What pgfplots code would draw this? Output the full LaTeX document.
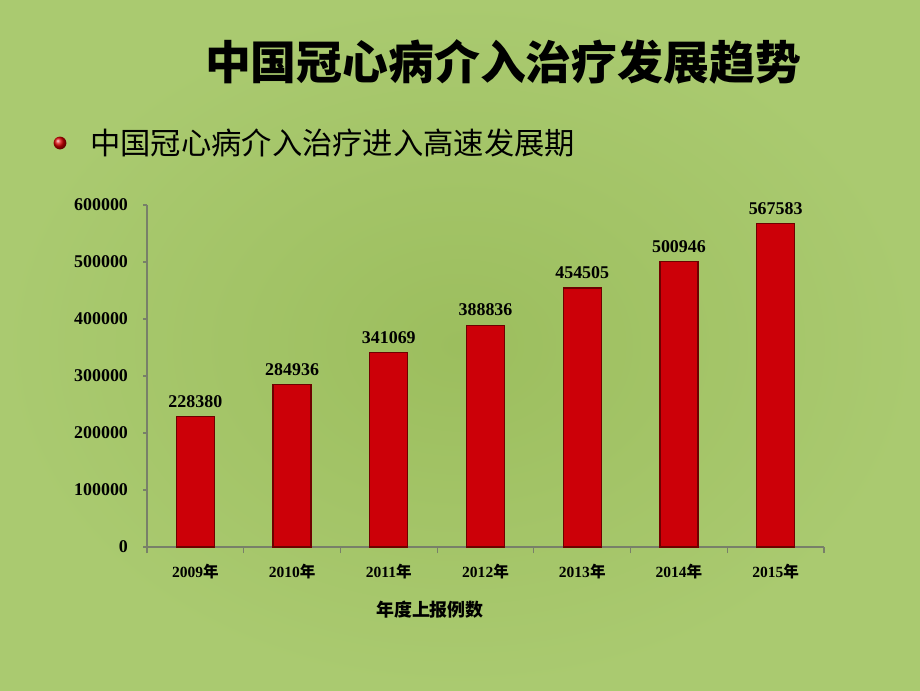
\documentclass[border=0pt]{standalone}
\usepackage{fontspec}
\setmainfont{Liberation Serif}
\newfontfamily\cjk{Noto Sans CJK SC}
\usepackage{pgfplots}
\pgfplotsset{compat=1.18}
\definecolor{bgin}{RGB}{156,190,94}
\definecolor{bgout}{RGB}{170,202,112}
\definecolor{barred}{RGB}{204,0,8}
\definecolor{baredge}{RGB}{110,0,0}
\definecolor{axgray}{RGB}{120,128,105}
\begin{document}
\begin{tikzpicture}[x=1bp,y=1bp]
\useasboundingbox (0,0) rectangle (460,345);
\shade[inner color=bgin, outer color=bgout] (0,0) rectangle (460,345);
\node[font=\cjk\bfseries\fontsize{23}{25}\selectfont, anchor=center] at (251.5,314) {中国冠心病介入治疗发展趋势};
\shade[ball color=red!85!black] (30,273.5) circle (3.2);
\node[font=\cjk\fontsize{15.2}{17}\selectfont, anchor=west, inner sep=0pt] at (45,273.5) {中国冠心病介入治疗进入高速发展期};
\begin{axis}[
  at={(73.5bp,71.5bp)}, anchor=south west,
  scale only axis, width=338.5bp, height=171bp,
  ymin=0, ymax=600000, xmin=-0.5, xmax=6.5,
  ytick={0,100000,...,600000},
  axis x line*=bottom, axis y line*=left,
  axis line style={axgray, line width=0.6pt, -},
  every tick/.style={axgray, line width=0.6pt},
  tick align=outside, major tick length=2bp,
  xtick={0,...,6}, x tick style={draw=none},
  xticklabels={{2009{\cjk 年}},{2010{\cjk 年}},{2011{\cjk 年}},{2012{\cjk 年}},{2013{\cjk 年}},{2014{\cjk 年}},{2015{\cjk 年}}},
  extra x ticks={-0.5,0.5,...,6.5}, extra x tick labels={},
  extra x tick style={x tick style={draw=axgray}, major tick length=3bp},
  /pgf/number format/assume math mode=true,
  /pgf/number format/fixed, /pgf/number format/1000 sep={},
  scaled y ticks=false,
  yticklabel style={font=\bfseries\fontsize{9}{10}\selectfont, xshift=-4bp},
  xticklabel style={font=\bfseries\fontsize{7.8}{9}\selectfont, yshift=-3bp},
  xlabel={年度上报例数},
  xlabel style={font=\cjk\bfseries\fontsize{9}{10}\selectfont, at={(axis description cs:0.418,0)}, anchor=center, yshift=-31.5bp},
  ybar, bar width=19bp,
  nodes near coords,
  every node near coord/.style={font=\bfseries\fontsize{9}{10}\selectfont, black, yshift=1bp},
  clip=false,
]
\addplot[fill=barred, draw=baredge, line width=0.6pt] coordinates {
  (0,228380) (1,284936) (2,341069) (3,388836) (4,454505) (5,500946) (6,567583)
};
\end{axis}
\end{tikzpicture}
\end{document}
